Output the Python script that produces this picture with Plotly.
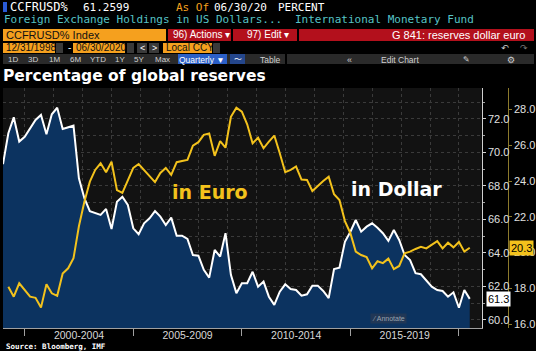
import plotly.graph_objects as go
import pandas as pd

# ---------------- data ----------------
quarter_ends = pd.date_range("1998-12-31", "2020-06-30", freq="QE").strftime("%Y-%m-%d").tolist()

usd_share = [69.3, 71.15, 72.1, 70.65, 70.94, 71.44, 71.94, 72.24, 71.09, 72.28,
             72.67, 71.4, 71.48, 71.6, 68.46, 67.27, 66.5, 66.4, 66.27, 66.63,
             65.43, 67.06, 67.36, 66.87, 65.47, 65.12, 65.77, 66.07, 66.5, 66.17,
             65.67, 66.11, 65.03, 65.03, 64.84, 63.88, 63.84, 62.99, 62.53, 64.18,
             63.78, 65.18, 62.69, 61.6, 62.19, 62.19, 62.88, 61.99, 62.29, 61.39,
             60.9, 61.69, 62.13, 61.85, 61.79, 61.45, 61.53, 62.05, 62.05, 61.73,
             61.3, 63.04, 63.12, 64.67, 65.27, 65.97, 65.27, 65.57, 65.77, 65.51,
             65.18, 64.72, 65.37, 64.78, 63.88, 63.58, 62.79, 62.73, 62.39, 61.99,
             61.79, 61.73, 61.39, 61.65, 60.73, 61.79, 61.26]

eur_share = [None, 18.09, 17.53, 18.28, 17.90, 17.53, 17.47, 16.92, 18.23, 17.72,
             17.58, 18.83, 19.12, 19.68, 21.47, 22.84, 23.96, 24.62, 24.99, 24.49,
             25.08, 23.49, 23.33, 24.06, 24.73, 24.95, 24.62, 24.23, 23.94, 24.45,
             24.73, 24.34, 25.05, 25.12, 25.18, 25.98, 26.17, 26.58, 26.66, 25.41,
             26.23, 25.86, 27.59, 28.10, 27.88, 27.17, 26.11, 26.42, 25.83, 26.20,
             26.54, 25.55, 24.49, 24.62, 24.81, 24.08, 24.06, 23.44, 23.74, 24.00,
             24.24, 23.26, 22.94, 21.76, 21.08, 20.05, 19.86, 19.75, 19.12, 19.51,
             19.41, 19.66, 19.07, 19.25, 19.96, 20.05, 20.20, 20.32, 20.23, 20.44,
             20.64, 20.23, 20.55, 20.29, 20.59, 20.05, 20.27]

period_labels = ["2000-2004", "2005-2009", "2010-2014", "2015-2019"]
period_mids = ["2002-07-02", "2007-07-02", "2012-07-02", "2017-07-02"]
period_bounds = ["2000-01-01", "2005-01-01", "2010-01-01", "2015-01-01", "2020-01-01"]

# ---------------- geometry helpers (pixel -> paper) ----------------
ML, MR, MT, MB = 3, 2, 88, 23
W, H = 536, 351
PW, PH = W - ML - MR, H - MT - MB


def X(px):
    return (px - ML) / PW


def Y(py):
    return (H - MB - py) / PH


WHITE = "#ffffff"
YELLOW = "#f3c21c"
ORANGE = "#f5a01e"
RED = "#b3101c"
TEAL = "#56c3c6"
MONO = "DejaVu Sans Mono"
SANS = "Liberation Sans"

fig = go.Figure()
fig.add_trace(go.Scatter(x=quarter_ends, y=usd_share, mode="lines",
                         line=dict(color=WHITE, width=2), fill="tozeroy",
                         fillcolor="#0c3360", name="USD", xaxis="x", yaxis="y"))
fig.add_trace(go.Scatter(x=quarter_ends, y=eur_share, mode="lines",
                         line=dict(color=YELLOW, width=2), name="EUR",
                         xaxis="x2", yaxis="y2", connectgaps=False))

xrange = ["1998-12-31", "2021-01-17"]
dom_end = X(481.7)

shapes = []
ann = []


def rect(x0, x1, y0, y1, color):
    shapes.append(dict(type="rect", xref="paper", yref="paper", x0=X(x0), x1=X(x1),
                       y0=Y(y1), y1=Y(y0), fillcolor=color, line=dict(width=0), layer="above"))


def text(s, px, py, color=WHITE, size=11, family=MONO, anchor="left", bold=False, bg=None):
    if bold:
        s = "<b>" + s + "</b>"
    a = dict(text=s, x=X(px), y=Y(py), xref="paper", yref="paper", xanchor=anchor,
             yanchor="middle", showarrow=False, font=dict(color=color, size=size, family=family))
    if bg:
        a["bgcolor"] = bg
    ann.append(a)


# Row 1
rect(3, 7, 2, 12, "#2a5bd7")
text("CCFRUSD%", 8, 7, WHITE, 12)
text("61.2599", 81, 7, WHITE, 11)
text("As Of", 174, 7, ORANGE, 11)
text("06/30/20", 212, 7, WHITE, 11)
text("PERCENT", 276, 7, WHITE, 11)
# Row 2
text("Foreign Exchange Holdings in US Dollars...", 2, 20, TEAL, 11)
text("International Monetary Fund", 293, 20, TEAL, 11)
# Row 3
rect(3, 166, 29, 41, ORANGE)
text("CCFRUSD% Index", 4, 35, "#111111", 11, SANS)
rect(168, 231, 29, 41, RED)
text("96) Actions ▾", 171, 35, WHITE, 10, SANS)
rect(233, 297, 29, 41, RED)
text("97) Edit ▾", 245, 35, WHITE, 10, SANS)
rect(299, 534, 29, 41, RED)
text("G 841: reserves dollar euro", 527, 35, WHITE, 11, SANS, anchor="right")
# Row 4
rect(3, 55, 43, 53, ORANGE)
text("12/31/1998", 4, 48, "#111111", 10, SANS)
rect(56, 63, 43, 53, "#3a3a3a")
text("-", 66, 48, WHITE, 10, SANS)
rect(73, 125, 43, 53, ORANGE)
text("06/30/2020", 74, 48, "#111111", 10, SANS)
rect(127, 134, 43, 53, "#3a3a3a")
rect(137, 147, 43, 53, "#3a3a3a")
text("<", 142, 48, WHITE, 9, SANS, anchor="center")
rect(149, 159, 43, 53, "#3a3a3a")
text(">", 154, 48, WHITE, 9, SANS, anchor="center")
rect(163, 212, 43, 53, ORANGE)
text("Local CCY", 164, 48, "#111111", 10, SANS)
rect(213, 220, 43, 53, "#3a3a3a")
text("↶", 505, 48, "#cccccc", 9, "DejaVu Sans", anchor="center")
text("↷", 524, 48, "#777777", 9, "DejaVu Sans", anchor="center")
# Row 5
rect(3, 285, 54, 64, "#2a2a2a")
rect(287, 534, 54, 64, "#2a2a2a")
for lab, cx in [("1D", 13), ("3D", 33), ("1M", 54), ("6M", 75), ("YTD", 98),
                ("1Y", 120), ("5Y", 139), ("Max", 162)]:
    text(lab, cx, 59.5, "#d0d0d0", 8, SANS, anchor="center")
rect(178, 227, 54, 64, "#2b5fc6")
text("Quarterly ▼", 202, 59.5, WHITE, 8.5, SANS, anchor="center")
rect(230, 245, 54, 64, "#24468c")
text("〜", 237.5, 59.5, WHITE, 8, "DejaVu Sans", anchor="center")
text("Table", 258, 59.5, "#d0d0d0", 8.5, SANS)
text("«", 349, 59.5, "#d0d0d0", 9, SANS, anchor="center")
text("Edit Chart", 379, 59.5, "#d0d0d0", 8.5, SANS)
text("✎", 466, 59.5, "#d0d0d0", 8, "DejaVu Sans", anchor="center")
text("⚙", 511, 59.5, "#d0d0d0", 9, "DejaVu Sans", anchor="center")
# Title
text("Percentage of global reserves", 1, 76, WHITE, 15.5, "DejaVu Sans", bold=True)
# Series labels
text("in Euro", 170, 192, YELLOW, 19, "DejaVu Sans", bold=True)
text("in Dollar", 349, 189, WHITE, 19, "DejaVu Sans", bold=True)
# Annotate button + source
text("⁄ Annotate", 388, 318, "#9aa4b0", 7, SANS, anchor="center", bg="rgba(35,55,85,0.9)")
text("Source: Bloomberg, IMF", 4, 346.5, WHITE, 7.5, MONO, bold=True)

# last value tags
ann.append(dict(text="61.3", x=X(486), xref="paper", y=usd_share[-1], yref="y",
                xanchor="left", yanchor="middle", showarrow=False, bgcolor=WHITE,
                font=dict(color="#000000", size=11, family=SANS), borderpad=1))
ann.append(dict(text="20.3", x=X(509), xref="paper", y=eur_share[-1], yref="y2",
                xanchor="left", yanchor="middle", showarrow=False, bgcolor=YELLOW,
                font=dict(color="#000000", size=11, family=SANS), borderpad=1))

grid = "#3a3a3a"
fig.update_layout(
    width=W, height=H, margin=dict(l=ML, r=MR, t=MT, b=MB),
    paper_bgcolor="#000000", plot_bgcolor="#121212", showlegend=False,
    xaxis=dict(type="date", domain=[0, dom_end], range=xrange, anchor="y",
               tickmode="array", tickvals=period_mids, ticktext=period_labels,
               ticks="", showgrid=False, showline=True, linecolor="#a0a0a0", linewidth=1,
               tickfont=dict(color="#d8d8d8", size=10.5, family=SANS),
               ticklabelstandoff=-3,
               minor=dict(tickmode="array", tickvals=period_bounds, ticks="outside",
                          ticklen=7, tickcolor="#a0a0a0", showgrid=False),
               zeroline=False),
    xaxis2=dict(type="date", overlaying="x", matches="x", range=xrange, anchor="y2",
                showticklabels=False, ticks="", showline=False, showgrid=True,
                griddash="dot", gridcolor=grid, gridwidth=1, dtick="M16", tick0="2000-01-01"),
    yaxis=dict(domain=[0, 1], range=[59.52, 73.85], side="right", anchor="x",
               dtick=2, tick0=60, tickformat=".1f", ticks="outside", ticklen=3,
               tickcolor="#d0d0d0", showline=True, linecolor="#d0d0d0", linewidth=1,
               showgrid=True, griddash="dot", gridcolor=grid, zeroline=False,
               tickfont=dict(color="#e0e0e0", size=11, family=SANS),
               minor=dict(dtick=1, showgrid=True, griddash="dot", gridcolor=grid,
                          ticks="outside", ticklen=2, tickcolor="#a0a0a0")),
    yaxis2=dict(overlaying="y", side="right", anchor="free", position=X(507.7),
                range=[15.78, 29.20], dtick=2, tick0=16, tickformat=".1f",
                ticks="outside", ticklen=3, tickcolor="#8c7a2c", showline=True,
                linecolor="#8c7a2c", linewidth=1, showgrid=False, zeroline=False,
                tickfont=dict(color="#e0e0e0", size=11, family=SANS)),
    shapes=shapes, annotations=ann,
)

fig.write_html("out.html")
